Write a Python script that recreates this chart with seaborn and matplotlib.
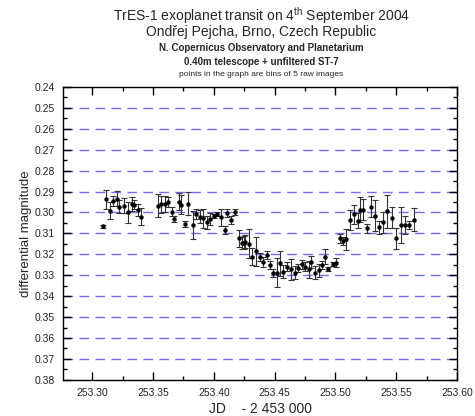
import matplotlib
matplotlib.use("Agg")
import matplotlib.pyplot as plt
import seaborn as sns
import pandas as pd
from matplotlib.ticker import MultipleLocator

# binned photometry, JD - 2453000
jd = [253.3088, 253.3115, 253.3142, 253.3169, 253.3201, 253.3223, 253.3258, 253.3291,
      253.3323, 253.3345, 253.3372, 253.3399,
      253.3537, 253.3567, 253.3594, 253.3621, 253.3656, 253.3672, 253.3716, 253.3732,
      253.3761, 253.3791, 253.3826, 253.3851, 253.3883, 253.3907, 253.3940, 253.3972,
      253.4002, 253.4029, 253.4057, 253.4089, 253.4110, 253.4143, 253.4175,
      253.4203, 253.4230, 253.4246, 253.4260, 253.4292, 253.4313, 253.4343,
      253.4378, 253.4406, 253.4435, 253.4463, 253.4487, 253.4516, 253.4544, 253.4570,
      253.4603, 253.4636, 253.4670, 253.4690, 253.4725, 253.4747, 253.4779, 253.4800,
      253.4833, 253.4865, 253.4893, 253.4914, 253.4942, 253.4977, 253.5001,
      253.5041, 253.5063, 253.5090, 253.5123, 253.5149, 253.5182, 253.5204, 253.5231,
      253.5258, 253.5293, 253.5326, 253.5360, 253.5393, 253.5425, 253.5463, 253.5501,
      253.5536, 253.5569, 253.5604, 253.5650]
mag = [0.3065, 0.2938, 0.2991, 0.2947, 0.2935, 0.2972, 0.2967, 0.2999,
       0.2959, 0.2962, 0.2988, 0.3020,
       0.2967, 0.2961, 0.2959, 0.2951, 0.2996, 0.3031, 0.2948, 0.2962,
       0.3055, 0.2959, 0.3060, 0.3009, 0.3020, 0.3028, 0.3047, 0.3031,
       0.3017, 0.3008, 0.3024, 0.3084, 0.3004, 0.3035, 0.2998,
       0.3124, 0.3147, 0.3144, 0.3139, 0.3150, 0.3212, 0.3185,
       0.3212, 0.3237, 0.3204, 0.3251, 0.3288, 0.3288, 0.3243, 0.3283,
       0.3259, 0.3272, 0.3288, 0.3267, 0.3248, 0.3259, 0.3272, 0.3237,
       0.3288, 0.3277, 0.3251, 0.3212, 0.3269, 0.3245, 0.3240,
       0.3124, 0.3136, 0.3128, 0.3036, 0.3008, 0.3039, 0.2988, 0.2988,
       0.3076, 0.2972, 0.3016, 0.3071, 0.3047, 0.2995, 0.3026, 0.3123,
       0.3060, 0.3060, 0.3060, 0.3036]
err = [0.0007, 0.0047, 0.0040, 0.0024, 0.0036, 0.0032, 0.0034, 0.0050,
       0.0035, 0.0020, 0.0030, 0.0040,
       0.0056, 0.0040, 0.0040, 0.0025, 0.0020, 0.0015, 0.0040, 0.0045,
       0.0015, 0.0055, 0.0065, 0.0024, 0.0030, 0.0045, 0.0030, 0.0030,
       0.0010, 0.0010, 0.0040, 0.0020, 0.0020, 0.0020, 0.0015,
       0.0040, 0.0030, 0.0030, 0.0030, 0.0070, 0.0040, 0.0070,
       0.0020, 0.0025, 0.0020, 0.0020, 0.0020, 0.0070, 0.0060, 0.0030,
       0.0020, 0.0050, 0.0030, 0.0020, 0.0020, 0.0020, 0.0040, 0.0030,
       0.0030, 0.0030, 0.0020, 0.0035, 0.0010, 0.0010, 0.0020,
       0.0020, 0.0020, 0.0050, 0.0050, 0.0045, 0.0035, 0.0060, 0.0050,
       0.0020, 0.0050, 0.0075, 0.0030, 0.0050, 0.0080, 0.0050, 0.0050,
       0.0085, 0.0045, 0.0020, 0.0055]

grid_levels = [0.25, 0.26, 0.27, 0.28, 0.29, 0.30, 0.31, 0.32, 0.33, 0.34, 0.35, 0.36, 0.37]

sns.set_style("ticks")
plt.rcParams["font.family"] = ["Liberation Sans", "DejaVu Sans"]
plt.rcParams["mathtext.default"] = "regular"

df = pd.DataFrame({"jd": jd, "mag": mag, "err": err})

fig = plt.figure(figsize=(4.75, 4.16), dpi=100)
ax = fig.add_axes([0.133, 0.087, 0.829, 0.704])

for lev in grid_levels:
    ax.axhline(lev, color="#6e6eff", lw=1.0, ls=(0, (7, 4.5)), zorder=0)

ax.errorbar(df["jd"], df["mag"], yerr=df["err"], fmt="none", ecolor="#333333",
            elinewidth=0.8, capsize=2.5, capthick=0.8, zorder=2)
sns.scatterplot(data=df, x="jd", y="mag", ax=ax, color="black", marker="o",
                s=8, linewidth=0.3, edgecolor="black", zorder=3)

ax.set_xlim(253.276, 253.60)
ax.set_ylim(0.38, 0.24)
ax.xaxis.set_major_locator(MultipleLocator(0.05))
ax.xaxis.set_minor_locator(MultipleLocator(0.025))
ax.yaxis.set_major_locator(MultipleLocator(0.01))
ax.yaxis.set_minor_locator(MultipleLocator(0.005))
ax.xaxis.set_major_formatter(matplotlib.ticker.FormatStrFormatter("%.2f"))
ax.yaxis.set_major_formatter(matplotlib.ticker.FormatStrFormatter("%.2f"))
ax.tick_params(which="both", direction="in", top=True, right=True, labelsize=7.5,
               color="black", width=1.0, labelcolor="#222222")
ax.tick_params(which="major", length=6, pad=6)
ax.tick_params(which="minor", length=3)
for sp in ax.spines.values():
    sp.set_linewidth(1.0)
    sp.set_color("black")

ax.set_xlabel("JD    - 2 453 000", fontsize=10, labelpad=3)
ax.set_ylabel("differential magnitude", fontsize=9.5, labelpad=2)

fig.text(0.55, 0.962, "TrES-1 exoplanet transit on 4$^{th}$ September 2004", ha="center", va="center", fontsize=10)
fig.text(0.55, 0.922, "Ondřej Pejcha, Brno, Czech Republic", ha="center", va="center", fontsize=10)
fig.text(0.55, 0.885, "N. Copernicus Observatory and Planetarium", ha="center", va="center", fontsize=7, fontweight="bold")
fig.text(0.55, 0.85, "0.40m telescope + unfiltered ST-7", ha="center", va="center", fontsize=7, fontweight="bold")
fig.text(0.55, 0.82, "points in the graph are bins of 5 raw images", ha="center", va="center", fontsize=6)

fig.savefig("out.png", dpi=100)
